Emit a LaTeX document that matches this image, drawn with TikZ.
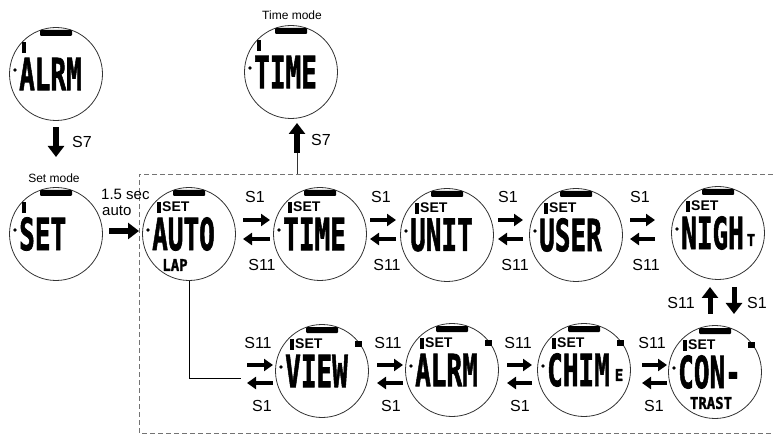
\documentclass[tikz,border=0pt]{standalone}
\usepackage{fontspec}
\usepackage{graphicx}
\setmainfont{Liberation Sans}
\setmonofont{DejaVu Sans Mono}[BoldFeatures={FakeBold=1.8}]
\usetikzlibrary{arrows.meta}
\tikzset{
  wcirc/.style={circle, draw=black!80, line width=0.8pt, minimum size=93pt, inner sep=0pt},
  bigtxt/.style={inner sep=0pt, anchor=west, font=\ttfamily\bfseries\fontsize{26}{26}\selectfont},
  smalllcd/.style={inner sep=0pt, font=\ttfamily\bfseries\fontsize{14}{14}\selectfont},
  settxt/.style={inner sep=0pt, anchor=west, font=\bfseries\fontsize{14}{14}\selectfont},
  lbl/.style={inner sep=0pt, font=\fontsize{16}{16}\selectfont},
  modelbl/.style={inner sep=0pt, font=\fontsize{12}{12}\selectfont},
  dar/.style={line width=3.8pt, -{Triangle[width=12pt,length=9pt]}},
  barr/.style={line width=6pt, -{Triangle[width=16pt,length=11pt]}},
  dbox/.style={draw=black!55, line width=0.8pt, dash pattern=on 5pt off 3pt},
}
\newcommand{\lcdbig}[1]{\scalebox{1}[1.7]{#1}}
\newcommand{\lcdsm}[1]{\scalebox{1}[1.15]{#1}}
% watch face: name, position, big text
\newcommand{\wface}[3]{%
  \begin{scope}[shift={#2}]
    \node[wcirc] (#1) at (0,0) {};
    \fill[rounded corners=1pt] (-16,-44) rectangle (16,-38);
    \fill (-41,-4) circle (1.8);
    \node[bigtxt] (#1-big) at (-37,0) {\lcdbig{#3}};
  \end{scope}}
\newcommand{\setmark}[2]{%
  \begin{scope}[shift={#2}]
    \fill (-32,-32) rectangle (-28.5,-21);
    \node[settxt] (#1-set) at (-27,-27) {SET};
  \end{scope}}
\newcommand{\plainmark}[1]{%
  \begin{scope}[shift={#1}]
    \fill (-34,-32) rectangle (-30.5,-21);
  \end{scope}}
\newcommand{\sqmark}[1]{%
  \begin{scope}[shift={#1}]
    \fill (33,-30) rectangle (40,-24);
  \end{scope}}
\begin{document}
\begin{tikzpicture}[x=1pt,y=-1pt]
\useasboundingbox (0,0) rectangle (773,435);

% dashed frame
\draw[dbox] (773,174) -- (139,174) -- (139,433) -- (773,433);

% standalone faces
\wface{alrmA}{(56,74)}{ALRM}\plainmark{(56,74)}
\wface{timeM}{(291,72)}{TIME}\plainmark{(291,72)}
\wface{setM}{(56,234)}{SET}\plainmark{(56,234)}

\node[modelbl] (tmlbl) at (292,15) {Time mode};
\node[modelbl] (smlbl) at (54,178) {Set mode};

% top row
\wface{auto}{(189,234)}{AUTO}\setmark{auto}{(189,234)}
\node[smalllcd] (lap) at (175,265) {\lcdsm{LAP}};
\wface{timeS}{(320,234)}{TIME}\setmark{timeS}{(320,234)}
\wface{unit}{(447,235)}{UNIT}\setmark{unit}{(447,235)}
\wface{user}{(576,235)}{USER}\setmark{user}{(576,235)}
\wface{nigh}{(718,233)}{NIGH}\setmark{nigh}{(718,233)}
\node[smalllcd] (nighT) at (751,240) {\lcdsm{T}};

% bottom row
\wface{view}{(322,371)}{VIEW}\setmark{view}{(322,371)}\sqmark{(322,371)}
\wface{alrmB}{(452,370)}{ALRM}\setmark{alrmB}{(452,370)}\sqmark{(452,370)}
\wface{chim}{(584,370)}{CHIM}\setmark{chim}{(584,370)}\sqmark{(584,370)}
\node[smalllcd] (chimE) at (619,375) {\lcdsm{E}};
\wface{con}{(715,372)}{CON-}\setmark{con}{(715,372)}\sqmark{(715,372)}
\node[smalllcd] (trast) at (711,403) {\lcdsm{TRAST}};

% S7 arrows
\coordinate (a7s) at (56,127);
\coordinate (a7e) at (56,157);
\draw[barr] (a7s) -- (a7e);
\node[lbl, anchor=west] (s7a) at (72,142) {S7};

\coordinate (t7base) at (297,174);
\coordinate (t7mid) at (297,153);
\coordinate (t7tip) at (297,123);
\draw[line width=1pt, black!80] (t7base) -- (t7mid);
\draw[barr] (t7mid) -- (t7tip);
\node[lbl, anchor=west] (s7b) at (311,140) {S7};

% Set -> Auto
\node[lbl, anchor=west, font=\fontsize{15}{15}\selectfont] (sec) at (101,194) {1.5 sec};
\node[lbl, anchor=west, font=\fontsize{15}{15}\selectfont] (autolbl) at (102,211) {auto};
\coordinate (sa1) at (109,231);
\coordinate (sa2) at (139,231);
\draw[barr] (sa1) -- (sa2);

% double arrows top row
\foreach \xa/\xb/\ca/\cb [count=\i] in {243/270/255/262, 370/396/381/387, 498/523/508/515, 630/655/640/646}{
  \coordinate (tu\i a) at (\xa,220); \coordinate (tu\i b) at (\xb,220);
  \coordinate (tl\i a) at (\xa,239); \coordinate (tl\i b) at (\xb,239);
  \draw[dar] (tu\i a) -- (tu\i b);
  \draw[dar] (tl\i b) -- (tl\i a);
  \node[lbl] (ts1\i) at (\ca,197) {S1};
  \node[lbl] (ts11\i) at (\cb,265) {S11};
}
% double arrows bottom row
\foreach \xa/\xb/\ca/\cb [count=\i] in {247/273/258/262, 377/403/388/391, 507/532/518/520, 642/667/652/654}{
  \coordinate (bu\i a) at (\xa,365); \coordinate (bu\i b) at (\xb,365);
  \coordinate (bl\i a) at (\xa,383); \coordinate (bl\i b) at (\xb,383);
  \draw[dar] (bu\i a) -- (bu\i b);
  \draw[dar] (bl\i b) -- (bl\i a);
  \node[lbl] (bs11\i) at (\ca,343) {S11};
  \node[lbl] (bs1\i) at (\cb,406) {S1};
}

% connector AUTO -> VIEW row
\coordinate (vj) at (241,378);
\draw[line width=1pt] (auto.south) |- (vj);

% vertical NIGH <-> CON
\coordinate (vu1) at (710,314); \coordinate (vu2) at (710,287);
\coordinate (vd1) at (734,287); \coordinate (vd2) at (734,314);
\draw[barr, line width=5pt] (vu1) -- (vu2);
\draw[barr, line width=5pt] (vd1) -- (vd2);
\node[lbl] (vs11) at (681,303) {S11};
\node[lbl] (vs1) at (757,303) {S1};
\end{tikzpicture}
\end{document}
